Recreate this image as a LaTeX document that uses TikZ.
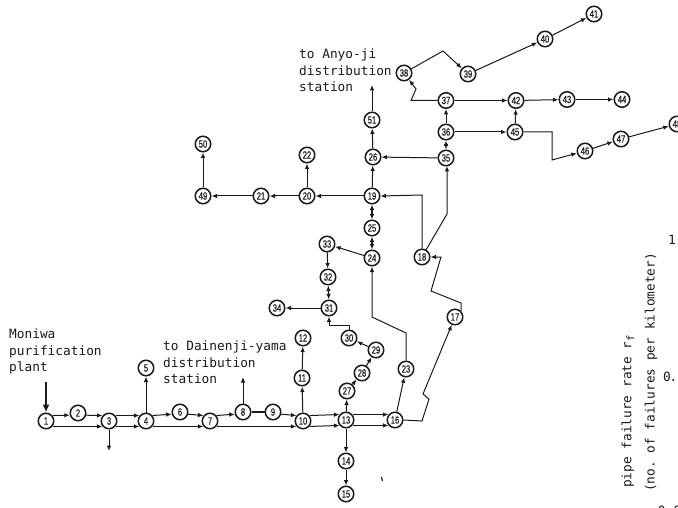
\documentclass[tikz,border=0pt]{standalone}
\usepackage{fontspec}
\setmonofont{DejaVu Sans Mono}
\newfontfamily\numf[FakeStretch=0.72,FakeBold=0.4]{Liberation Sans}
\usetikzlibrary{arrows.meta}
\definecolor{ink}{HTML}{1A1A1A}
\tikzset{
  x=1pt,y=-1pt,
  station/.style={circle,draw=ink,line width=1.5pt,fill=white,minimum size=15.5pt,inner sep=0pt,font=\numf\fontsize{10.5}{10.5}\selectfont,text=ink},
  pipe/.style={draw=ink,line width=1pt,-{Latex[length=5.5pt,width=4.5pt]}},
  plainpipe/.style={draw=ink,line width=1.2pt},
  both/.style={draw=ink,line width=1.2pt,{Latex[length=5.5pt,width=4.5pt]}-{Latex[length=5.5pt,width=4.5pt]}},
  feed/.style={draw=ink,line width=2.2pt,-{Latex[length=8pt,width=7pt]}},
  caption/.style={align=left,anchor=north west,inner sep=0pt,text=ink,font=\ttfamily\fontsize{12.8}{16.3}\selectfont},
  sidecap/.style={rotate=90,anchor=west,inner sep=0pt,text=ink,font=\ttfamily\fontsize{12.8}{13}\selectfont},
  tick/.style={inner sep=0pt,text=ink,font=\ttfamily\fontsize{12.8}{13}\selectfont}
}
\begin{document}
\begin{tikzpicture}
\useasboundingbox (0,0) rectangle (678,508);
% stations
\foreach \i/\x/\y in {1/46/421,2/78/413,3/109/421,4/146/421,5/146/368,6/180/412,7/210/421,8/243/412,9/273/412,10/303/421,
11/302/378,12/303/338,13/346/420,14/346/461,15/346/494,16/395/420,17/455/317,18/422/257,19/372/196,20/307/196,
21/261/196,22/307/155,23/406/369,24/372/258,25/372/228,26/373/157,27/347/391,28/362/373,29/376/350,30/349/338,
31/329/308,32/328/277,33/327/244,34/277/308,35/446/158,36/446/132,37/446/100.5,38/404/73,39/468/74,40/545/39,
41/594/14,42/516/100.5,43/567/99.5,44/622/99.5,45/515/132,46/585/151,47/621/139,48/677/124,49/203/196,50/203/144,51/372/120}
  \node[station] (n\i) at (\x,\y) {\i};
% free ends and bends
\coordinate (down3) at (109,451);
\coordinate (up8) at (243,377);
\coordinate (up51) at (372,85);
\coordinate (feedtop) at (46,382);
% main double line
\draw[pipe] (n1.40) -- (n2.195);
\draw[pipe] (n2.-15) -- (n3.140);
\draw[pipe] (n1.-40) -- (n3.220);
\draw[pipe] (n3.40) -- (n4.140);
\draw[pipe] (n3.-40) -- (n4.220);
\draw[pipe] (n4.40) -- (n6.195);
\draw[pipe] (n6.-15) -- (n7.140);
\draw[pipe] (n4.-40) -- (n7.220);
\draw[pipe] (n7.40) -- (n8.195);
\draw[plainpipe] (n8) -- (n9);
\draw[pipe] (n9.-15) -- (n10.140);
\draw[pipe] (n7.-40) -- (n10.220);
\draw[pipe] (n10.40) -- (n13.140);
\draw[pipe] (n10.-40) -- (n13.220);
\draw[pipe] (n13.40) -- (n16.140);
\draw[pipe] (n13.-40) -- (n16.220);
% branches
\draw[feed] (feedtop) -- (n1);
\draw[pipe] (n3) -- (down3);
\draw[pipe] (n4) -- (n5);
\draw[pipe] (n8) -- (up8);
\draw[pipe] (n10) -- (n11);
\draw[pipe] (n11) -- (n12);
\draw[pipe] (n13) -- (n14);
\draw[pipe] (n14) -- (n15);
\draw[pipe] (n13) -- (n27);
\draw[pipe] (n27) -- (n28);
\draw[pipe] (n28) -- (n29);
\draw[pipe] (n29) -- (n30);
\draw[pipe] (n30.north) -- (n30.north |- 0,325) -- (n31.south |- 0,325) -- (n31.south);
\draw[both] (n31) -- (n32);
\draw[pipe] (n33) -- (n32);
\draw[pipe] (n24) -- (n33);
\draw[pipe] (n31) -- (n34);
\draw[pipe] (n16) -- (n23);
\draw[pipe] (n23.north) -- (406,333) -- (372,317) -- (n24.south);
\draw[pipe] (n16.east) -- (422,421) -- (429,399) -- (423,394) -- (n17);
\draw[pipe] (n17.north east) -- (461,303) -- (431,291) -- (441,257) -- (n18.east);
\draw[pipe] (n18.north) -- (422,195) -- (n19.east);
\draw[pipe] (n18.60) -- (447,214) -- (447,170) -- (447,166);
\draw[both] (n24) -- (n25);
\draw[both] (n25) -- (n19);
\draw[pipe] (n19) -- (n20);
\draw[pipe] (n20) -- (n21);
\draw[pipe] (n21) -- (n49);
\draw[pipe] (n49) -- (n50);
\draw[pipe] (n20) -- (n22);
\draw[pipe] (n19) -- (n26);
\draw[pipe] (n26) -- (n51);
\draw[pipe] (n51) -- (up51);
\draw[pipe] (n35) -- (n26);
\draw[both] (n35) -- (n36);
\draw[pipe] (n36) -- (n37);
\draw[pipe] (n36) -- (n45);
\draw[pipe] (n45) -- (n42);
\draw[pipe] (n37) -- (n42);
\draw[pipe] (n42) -- (n43);
\draw[pipe] (n43) -- (n44);
\draw[pipe] (n37.west) -- (411,100.5) -- (416,89) -- (n38);
\draw[pipe] (n38) -- (443,51) -- (n39);
\draw[pipe] (n39) -- (n40);
\draw[pipe] (n40) -- (n41);
\draw[pipe] (n45.east) -- (552,132) -- (552,160) -- (n46);
\draw[pipe] (n46) -- (n47);
\draw[pipe] (n47) -- (n48);
% stray print mark
\draw[ink,line width=1.2pt] (381.5,477) -- (382.5,481);
% captions
\node[caption] (moniwa) at (9,329) {Moniwa\\purification\\plant};
\node[caption] (dai) at (163,341) {to Dainenji-yama\\distribution\\station};
\node[caption] (anyo) at (299,49) {to Anyo-ji\\distribution\\station};
\node[sidecap] (rate) at (628,488) {pipe failure rate r\raisebox{-3pt}{\fontsize{10.5}{11}\selectfont f}};
\node[sidecap] (unit) at (651,492) {(no. of failures per kilometer)};
\node[tick] (t1) at (672,240) {1};
\node[tick] (t2) at (670,377) {0\hspace{-1.5pt}.};
\node[tick] (t3) at (669.5,510.5) {0.0};
\end{tikzpicture}
\end{document}
